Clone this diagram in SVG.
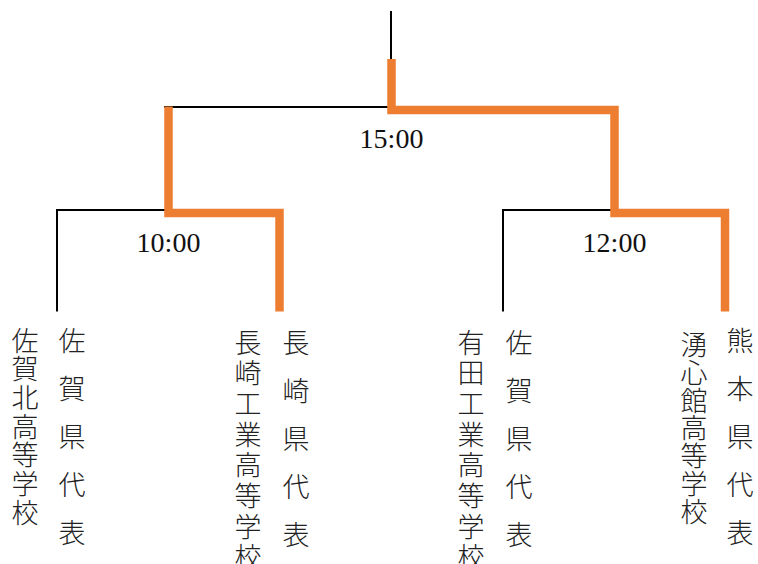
<svg xmlns="http://www.w3.org/2000/svg" width="758" height="564" viewBox="0 0 758 564">
<style>
.bk{fill:none;stroke:#000;stroke-width:2;stroke-linecap:butt}
.win{fill:none;stroke:#ED7D31;stroke-width:8.5;stroke-linecap:butt;stroke-linejoin:miter}
.time{font-family:"Liberation Serif","Times New Roman",serif;font-size:28px;fill:#111;text-anchor:middle}
.jp{font-family:"Noto Sans CJK JP","Noto Sans CJK SC",sans-serif;font-size:27px;font-weight:300;fill:#222;text-anchor:middle}
</style>
<rect width="758" height="564" fill="#fff"/>
<g id="connectors">
<path class="bk" d="M391,11 V59"/>
<path class="bk" d="M164,107 H388"/>
<path class="bk" d="M57,311.5 V210 H165"/>
<path class="bk" d="M503,311.5 V210 H611"/>
<path class="win" d="M168.5,106.5 V213 H279.5 V311.5"/>
<path class="win" d="M391.5,59 V110 H614.5 V213 H725 V311.5"/>
</g>
<g id="match-final"><text class="time" x="391.5" y="148">15:00</text></g>
<g id="match-1"><text class="time" x="168.5" y="251.5">10:00</text></g>
<g id="match-2"><text class="time" x="614.5" y="251.5">12:00</text></g>
<g id="team-sagakita">
<text class="jp"><tspan x="25" y="350.5">佐</tspan><tspan x="25" y="379.2">賀</tspan><tspan x="25" y="407.9">北</tspan><tspan x="25" y="436.6">高</tspan><tspan x="25" y="465.3">等</tspan><tspan x="25" y="494">学</tspan><tspan x="25" y="522.7">校</tspan></text>
<text class="jp"><tspan x="72" y="350.5">佐</tspan><tspan x="72" y="398.7">賀</tspan><tspan x="72" y="446.9">県</tspan><tspan x="72" y="495.1">代</tspan><tspan x="72" y="543.3">表</tspan></text>
</g>
<g id="team-nagasakikogyo">
<text class="jp"><tspan x="248" y="352.5">長</tspan><tspan x="248" y="383.2">崎</tspan><tspan x="248" y="413.9">工</tspan><tspan x="248" y="444.6">業</tspan><tspan x="248" y="475.3">高</tspan><tspan x="248" y="506">等</tspan><tspan x="248" y="536.7">学</tspan><tspan x="248" y="567.4">校</tspan></text>
<text class="jp"><tspan x="296" y="352.5">長</tspan><tspan x="296" y="400.5">崎</tspan><tspan x="296" y="448.5">県</tspan><tspan x="296" y="496.5">代</tspan><tspan x="296" y="544.5">表</tspan></text>
</g>
<g id="team-aritakogyo">
<text class="jp"><tspan x="471" y="352.5">有</tspan><tspan x="471" y="383.2">田</tspan><tspan x="471" y="413.9">工</tspan><tspan x="471" y="444.6">業</tspan><tspan x="471" y="475.3">高</tspan><tspan x="471" y="506">等</tspan><tspan x="471" y="536.7">学</tspan><tspan x="471" y="567.4">校</tspan></text>
<text class="jp"><tspan x="519" y="352.5">佐</tspan><tspan x="519" y="400.5">賀</tspan><tspan x="519" y="448.5">県</tspan><tspan x="519" y="496.5">代</tspan><tspan x="519" y="544.5">表</tspan></text>
</g>
<g id="team-yushinkan">
<text class="jp"><tspan x="694" y="355">湧</tspan><tspan x="694" y="382.8">心</tspan><tspan x="694" y="410.6">館</tspan><tspan x="694" y="438.4">高</tspan><tspan x="694" y="466.2">等</tspan><tspan x="694" y="494">学</tspan><tspan x="694" y="521.8">校</tspan></text>
<text class="jp"><tspan x="740" y="350.5">熊</tspan><tspan x="740" y="398.7">本</tspan><tspan x="740" y="446.9">県</tspan><tspan x="740" y="495.1">代</tspan><tspan x="740" y="543.3">表</tspan></text>
</g>
</svg>
